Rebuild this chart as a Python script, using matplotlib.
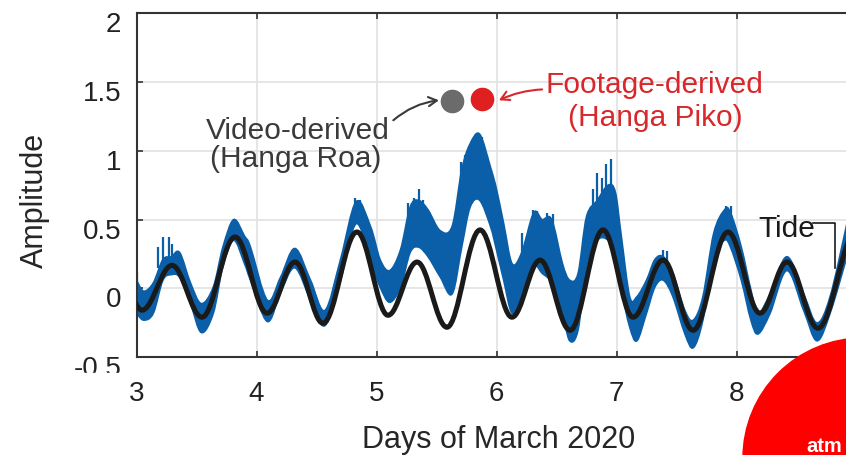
import matplotlib
matplotlib.use('Agg')
import matplotlib.pyplot as plt
import matplotlib.transforms as mtransforms
from matplotlib.path import Path
from matplotlib.patches import PathPatch, Ellipse, Rectangle

plt.rcParams['font.family'] = ['Liberation Sans', 'DejaVu Sans']

# ---------------- data ----------------
# tide: successive turning points (day of March 2020, amplitude)
tide_t = [2.80, 3.046, 3.296, 3.546, 3.821, 4.088, 4.321, 4.554, 4.837, 5.096,
          5.338, 5.587, 5.863, 6.129, 6.363, 6.613, 6.888, 7.138, 7.388, 7.638,
          7.929, 8.196, 8.421, 8.679, 9.00]
tide_v = [0.30, -0.158, 0.168, -0.209, 0.374, -0.18, 0.192, -0.253, 0.41, -0.195,
          0.192, -0.282, 0.425, -0.209, 0.206, -0.304, 0.425, -0.209, 0.206, -0.304,
          0.41, -0.18, 0.192, -0.289, 0.42]

# observed (noisy) signal envelope
obs_t = [3.00, 3.06, 3.14, 3.22, 3.29, 3.36, 3.45, 3.54, 3.64, 3.72, 3.81, 3.90,
         3.95, 4.09, 4.20, 4.32, 4.45, 4.57, 4.70, 4.83, 4.95, 5.03, 5.11, 5.20,
         5.28, 5.35, 5.43, 5.53, 5.63, 5.71, 5.78, 5.86, 5.95, 6.00, 6.06, 6.13,
         6.21, 6.31, 6.38, 6.46, 6.55, 6.61, 6.68, 6.75, 6.84, 6.93, 6.99, 7.04,
         7.11, 7.17, 7.25, 7.32, 7.39, 7.47, 7.57, 7.64, 7.72, 7.81, 7.90, 7.95,
         8.04, 8.12, 8.18, 8.28, 8.42, 8.56, 8.67, 8.78, 8.92]
obs_hi = [0.06, -0.02, 0.04, 0.21, 0.23, 0.26, 0.04, -0.11, 0.01, 0.30, 0.50, 0.38,
          0.30, -0.085, 0.08, 0.29, 0.06, -0.16, 0.21, 0.63, 0.45, 0.21, 0.13, 0.28,
          0.59, 0.64, 0.57, 0.42, 0.45, 0.86, 1.05, 1.12, 0.88, 0.72, 0.47, 0.18,
          0.26, 0.55, 0.50, 0.50, 0.18, 0.06, 0.11, 0.52, 0.64, 0.75, 0.70, 0.38,
          -0.06, -0.06, 0.06, 0.21, 0.23, 0.11, -0.16, -0.23, -0.06, 0.40, 0.57, 0.55,
          0.30, -0.01, -0.18, -0.04, 0.23, -0.04, -0.25, -0.06, 0.47]
obs_lo = [-0.18, -0.23, -0.18, 0.06, 0.10, 0.08, -0.11, -0.32, -0.18, 0.16, 0.35, 0.18,
          0.06, -0.24, -0.03, 0.15, -0.085, -0.27, 0.06, 0.47, 0.20, 0.01, -0.10, 0.01,
          0.26, 0.30, 0.23, 0.085, -0.04, 0.30, 0.59, 0.64, 0.45, 0.28, 0.06, -0.18,
          -0.06, 0.16, 0.11, 0.04, -0.18, -0.38, -0.30, 0.16, 0.35, 0.35, 0.23, -0.01,
          -0.28, -0.38, -0.18, 0.01, 0.06, -0.06, -0.33, -0.43, -0.23, 0.23, 0.35, 0.30,
          0.06, -0.23, -0.33, -0.18, 0.13, -0.16, -0.38, -0.18, 0.23]

# prominent spikes of the observed signal
spike_t = [3.00, 3.18, 3.22, 3.27, 3.30, 4.82, 4.86, 5.26, 5.31, 5.35, 5.39,
           5.70, 5.74, 5.77, 5.80, 5.84, 5.88, 5.92, 6.21, 6.25, 6.30, 6.34,
           6.42, 6.47, 6.80, 6.84, 6.88, 6.91, 6.95, 7.39, 7.42, 7.91, 7.95]
spike_lo = [0.0, 0.15, 0.2, 0.2, 0.2, 0.5, 0.5, 0.45, 0.55, 0.6, 0.5,
            0.7, 0.8, 0.9, 1.0, 1.0, 1.0, 0.8, 0.2, 0.25, 0.4, 0.4,
            0.4, 0.4, 0.5, 0.6, 0.65, 0.7, 0.7, 0.2, 0.2, 0.5, 0.5]
spike_hi = [0.12, 0.30, 0.37, 0.37, 0.32, 0.66, 0.64, 0.62, 0.66, 0.72, 0.64,
            0.92, 0.97, 1.03, 1.08, 1.12, 1.10, 0.96, 0.40, 0.38, 0.57, 0.56,
            0.55, 0.54, 0.72, 0.84, 0.80, 0.90, 0.94, 0.28, 0.27, 0.60, 0.60]

video_pt = (5.627, 1.36)
footage_pt = (5.877, 1.372)

xticks = [3, 4, 5, 6, 7, 8]
yticks = [-0.5, 0, 0.5, 1, 1.5, 2]
ytick_labels = ['-0.5', '0', '0.5', '1', '1.5', '2']


def smooth_segments(ts, vs):
    """Catmull-Rom style cubic Bezier control points through the given points."""
    n = len(ts)
    out = []
    for i in range(n - 1):
        p0 = (ts[max(i - 1, 0)], vs[max(i - 1, 0)])
        p1 = (ts[i], vs[i])
        p2 = (ts[i + 1], vs[i + 1])
        p3 = (ts[min(i + 2, n - 1)], vs[min(i + 2, n - 1)])
        c1 = (p1[0] + (p2[0] - p0[0]) / 6, p1[1] + (p2[1] - p0[1]) / 6)
        c2 = (p2[0] - (p3[0] - p1[0]) / 6, p2[1] - (p3[1] - p1[1]) / 6)
        out += [c1, c2, p2]
    return out


# ---------------- figure ----------------
W, H = 846, 456
fig = plt.figure(figsize=(W / 100, H / 100), dpi=100)
ax = fig.add_axes([136.5 / W, (H - 358.3) / H, (W - 136.5) / W, (358.3 - 14) / H])
ax.set_xlim(3, 3 + (W - 136.5) / 120)
ax.set_ylim(-0.5, 2)

blue = '#0b5fa8'
# observed band: smooth upper edge forward, smooth lower edge backward
up = smooth_segments(obs_t, obs_hi)
lo = smooth_segments(obs_t[::-1], obs_lo[::-1])
verts = [(obs_t[0], obs_hi[0])] + up + [(obs_t[-1], obs_lo[-1])] + lo + [(obs_t[0], obs_hi[0])]
codes = ([Path.MOVETO] + [Path.CURVE4] * len(up) + [Path.LINETO] +
         [Path.CURVE4] * len(lo) + [Path.CLOSEPOLY])
ax.add_patch(PathPatch(Path(verts, codes), facecolor=blue, edgecolor=blue, lw=1.2, zorder=2))
ax.vlines(spike_t, spike_lo, spike_hi, color=blue, lw=1.6, zorder=2)

# tide as a smooth path through turning points
k = 0.36
verts = [(tide_t[0], tide_v[0])]
codes = [Path.MOVETO]
for i in range(len(tide_t) - 1):
    t0, v0, t1, v1 = tide_t[i], tide_v[i], tide_t[i + 1], tide_v[i + 1]
    dt = t1 - t0
    verts += [(t0 + k * dt, v0), (t1 - k * dt, v1), (t1, v1)]
    codes += [Path.CURVE4] * 3
ax.add_patch(PathPatch(Path(verts, codes), fill=False, lw=3.6, color='#1a1a1a',
                       capstyle='round', joinstyle='round', zorder=3))

# points
ax.plot(*video_pt, 'o', ms=17, color='#6b6b6b', mec='none', zorder=4)
ax.plot(*footage_pt, 'o', ms=17, color='#e02020', mec='none', zorder=4)

gray_txt = '#3a3a3a'
red_txt = '#d8282c'
fs = 21.5
ax.text(4.346, 1.093, 'Video-derived', ha='center', va='baseline', fontsize=fs, color=gray_txt)
ax.text(4.33, 0.891, '(Hanga Roa)', ha='center', va='baseline', fontsize=fs, color=gray_txt)
ax.text(7.32, 1.423, 'Footage-derived', ha='center', va='baseline', fontsize=fs, color=red_txt)
ax.text(7.32, 1.19, '(Hanga Piko)', ha='center', va='baseline', fontsize=fs, color=red_txt)
ax.text(8.179, 0.381, 'Tide', ha='left', va='baseline', fontsize=fs, color='#1a1a1a')

ax.annotate('', xy=(5.52, 1.366), xytext=(5.14, 1.221),
            arrowprops=dict(arrowstyle='->,head_length=0.6,head_width=0.33', color=gray_txt,
                            lw=1.5, connectionstyle='arc3,rad=-0.15', shrinkA=0, shrinkB=0))
ax.annotate('', xy=(6.02, 1.366), xytext=(6.38, 1.445),
            arrowprops=dict(arrowstyle='->,head_length=0.6,head_width=0.33', color=red_txt,
                            lw=1.5, connectionstyle='arc3,rad=0.1', shrinkA=0, shrinkB=0))
ax.plot([8.64, 8.82, 8.82], [0.474, 0.474, 0.148], color='#1a1a1a', lw=1.2, zorder=5)

# axes styling
ax.set_xticks(xticks)
ax.set_yticks(yticks)
ax.set_yticklabels(ytick_labels)
ax.grid(True, color='#e2e2e2', lw=1.2)
ax.set_axisbelow(True)
ax.tick_params(direction='in', length=4, width=1.2, top=True, right=False,
               labelsize=20, labelcolor='#222222', color='#333333')
ax.tick_params(axis='x', pad=16.5)
ax.tick_params(axis='y', pad=11)
# y tick labels sit a little below their grid lines in the source
shift = mtransforms.ScaledTranslation(0, -8 / 100, fig.dpi_scale_trans)
for lab in ax.get_yticklabels():
    lab.set_transform(lab.get_transform() + shift)
for side in ['left', 'bottom', 'top']:
    ax.spines[side].set_color('#333333')
    ax.spines[side].set_linewidth(1.5)
ax.spines['right'].set_visible(False)

ax.set_xlabel('Days of March 2020', fontsize=22, color='#262626')
ax.set_ylabel('Amplitude', fontsize=22, color='#262626')
ax.xaxis.set_label_coords((499 - 136.5) / (W - 136.5), (358.3 - 425) / 344.3)
ax.yaxis.set_label_coords((50 - 136.5) / (W - 136.5), (358.3 - 200) / 344.3)

# partial cover of bottom y label (as in the source image)
fig.patches.append(Rectangle((60 / W, (H - 381) / H), 68 / W, 7 / H,
                             transform=fig.transFigure, color='white', zorder=10))
# red logo circle bottom right
fig.patches.append(Ellipse((863 / W, (H - 459) / H), 240 / W, 240 / H,
                           transform=fig.transFigure, color='#ff0000', zorder=10))
fig.text(806 / W, (H - 452) / H, 'atm', color='white', fontsize=14.5, fontweight='bold',
         ha='left', va='baseline', zorder=11)

fig.savefig('out.png', dpi=100)
